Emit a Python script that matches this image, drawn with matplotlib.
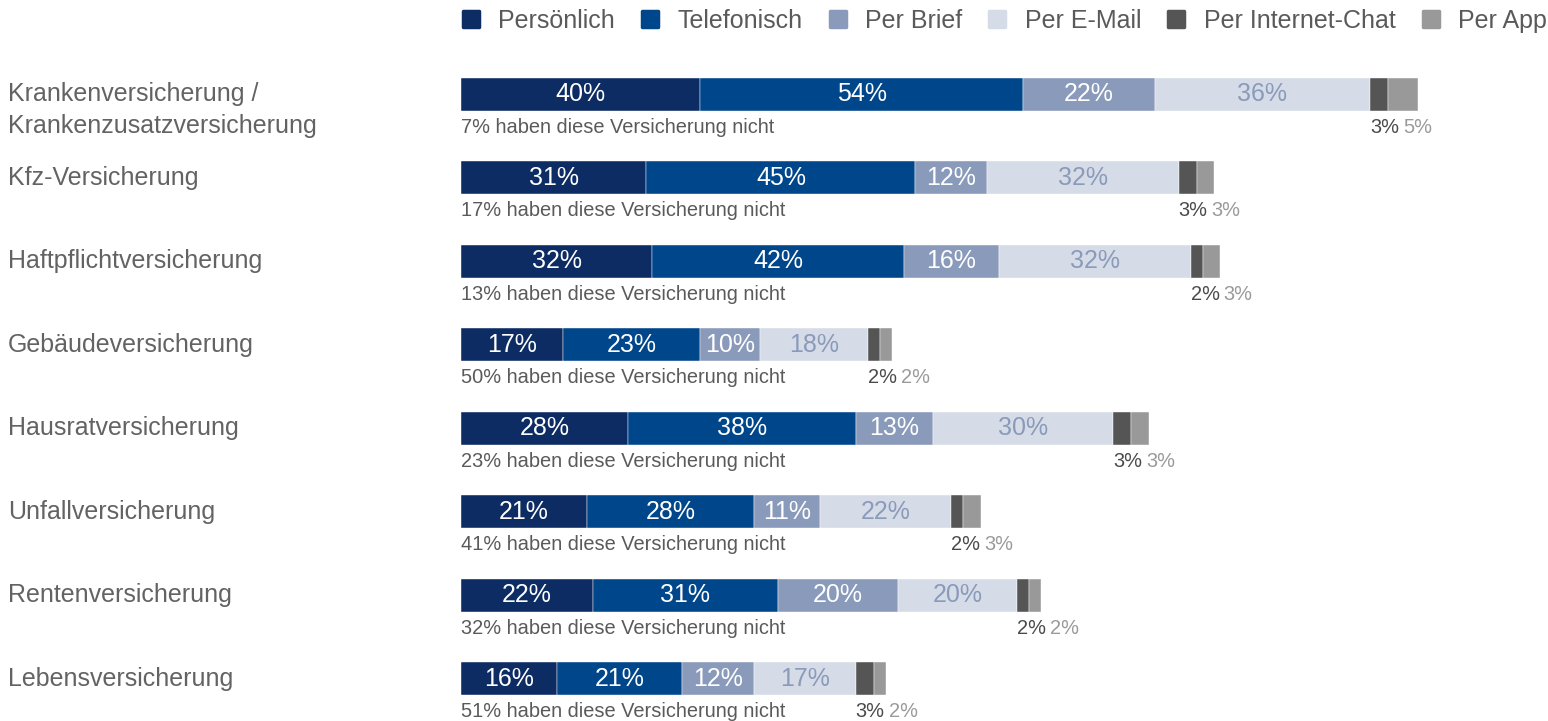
import matplotlib.pyplot as plt
import matplotlib.transforms as mtransforms
from matplotlib.lines import Line2D
from matplotlib.markers import MarkerStyle
import numpy as np

plt.rcParams['font.family'] = ['Liberation Sans', 'DejaVu Sans']

# Data
categories = ["Krankenversicherung /\nKrankenzusatzversicherung", "Kfz-Versicherung",
              "Haftpflichtversicherung", "Gebäudeversicherung", "Hausratversicherung",
              "Unfallversicherung", "Rentenversicherung", "Lebensversicherung"]
series = ["Persönlich", "Telefonisch", "Per Brief", "Per E-Mail", "Per Internet-Chat", "Per App"]
persoenlich = [40, 31, 32, 17, 28, 21, 22, 16]
telefonisch = [54, 45, 42, 23, 38, 28, 31, 21]
brief = [22, 12, 16, 10, 13, 11, 20, 12]
email = [36, 32, 32, 18, 30, 22, 20, 17]
chat = [3, 3, 2, 2, 3, 2, 2, 3]
app = [5, 3, 3, 2, 3, 3, 2, 2]
nicht = [7, 17, 13, 50, 23, 41, 32, 51]

colors = ["#0c2c63", "#00468b", "#8a9aba", "#d6dce7", "#555555", "#999999"]
inner_text = ["white", "white", "white", "#8a9aba"]

W, H = 1548, 721
fig = plt.figure(figsize=(W / 100, H / 100), dpi=100)
ax = fig.add_axes([461 / W, 0, 1 - 461 / W, 1])
ax.set_xlim(0, 1087 / 5.98)
ax.set_ylim(7.503, -1.125)
ax.axis('off')

y = np.arange(len(categories))
h = 0.395
left = np.zeros(len(categories))
for k, vals in enumerate([persoenlich, telefonisch, brief, email, chat, app]):
    bars = ax.barh(y, vals, left=left, height=h, color=colors[k], edgecolor='white',
                   linewidth=0.3, label=series[k])
    if k < 4:
        ax.bar_label(bars, labels=[f"{v}%" for v in vals], label_type='center',
                     color=inner_text[k], fontsize=18)
    left += np.array(vals)

chat_start = np.array(persoenlich) + np.array(telefonisch) + np.array(brief) + np.array(email)

for i in range(len(categories)):
    ax.text(0, y[i] + h, f"{nicht[i]}% haben diese Versicherung nicht", fontsize=14.4,
            color="#5a5a5a", ha='left', va='center')
    t1 = ax.text(chat_start[i], y[i] + h, f"{chat[i]}%", fontsize=14.4,
                 color="#4a4a4a", ha='left', va='center')
    ax.annotate(f"{app[i]}%", xy=(1, 0), xycoords=t1, xytext=(3, 0),
                textcoords='offset points', fontsize=14.4, color="#9a9a9a",
                ha='left', va='bottom')

trans = mtransforms.blended_transform_factory(fig.transFigure, ax.transData)
for i, c in enumerate(categories):
    lines = c.split("\n")
    for j, line in enumerate(lines):
        ax.text(8 / W, y[i] + j * 0.383, line, transform=trans, fontsize=18,
                color="#636363", ha='left', va='center')

mk = MarkerStyle('s', joinstyle='round')
handles = [Line2D([], [], marker=mk, linestyle='none', markersize=11.5,
                  markeredgewidth=2.5, markerfacecolor=c, markeredgecolor=c) for c in colors]
fig.legend(handles, series, loc='upper right', bbox_to_anchor=(1547 / W, 1 - 9 / H),
           ncol=6, frameon=False, fontsize=18, labelcolor="#5a5a5a",
           handletextpad=0.72, columnspacing=1.02, borderaxespad=0, borderpad=0,
           handlelength=0.76)

fig.savefig("out.png", dpi=100)
